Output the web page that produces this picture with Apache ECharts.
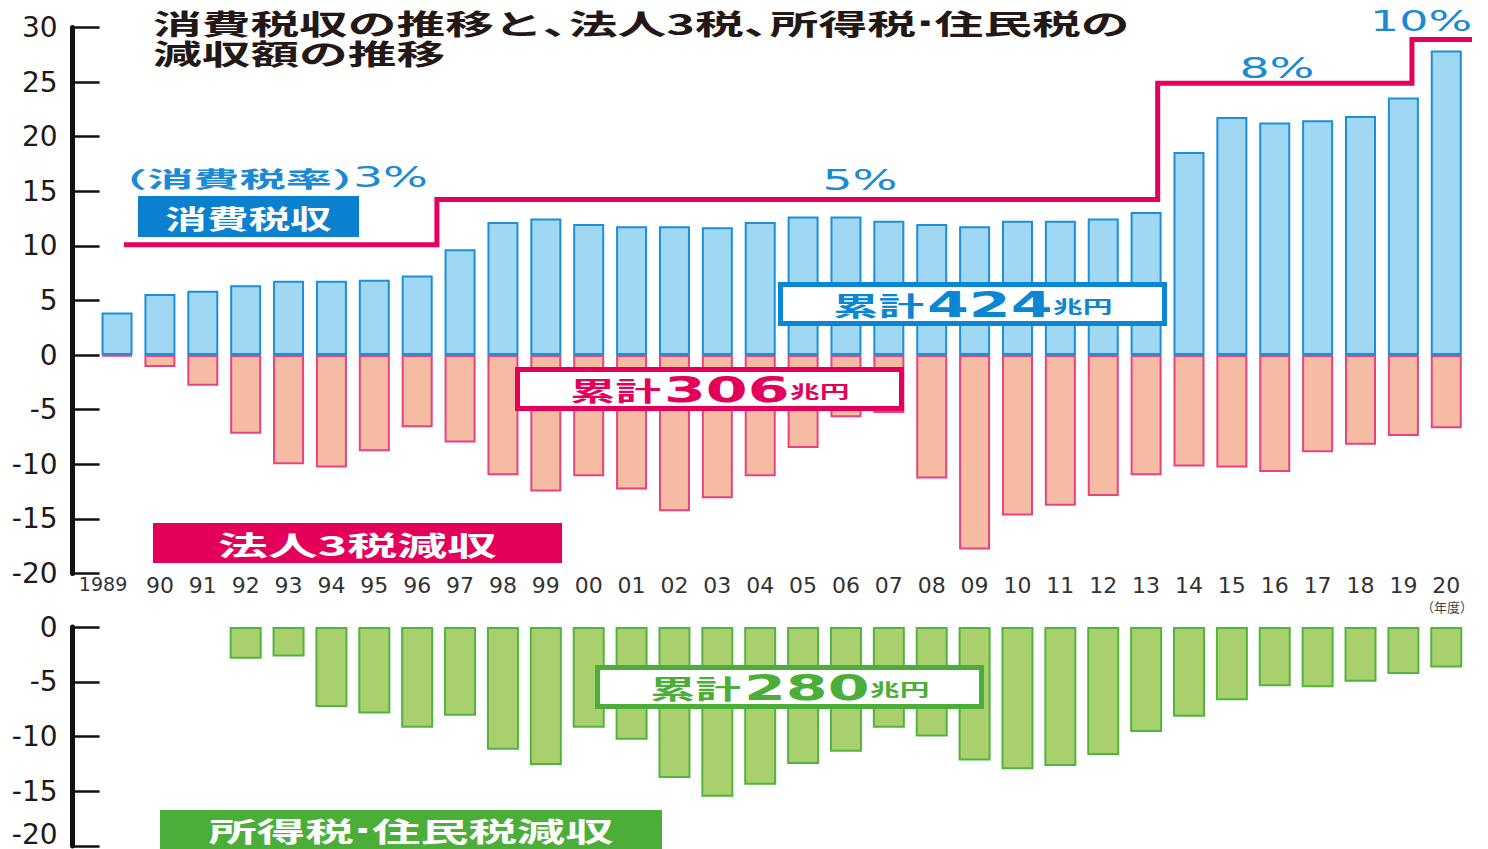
<!DOCTYPE html>
<html>
<head>
<meta charset="utf-8">
<script src="https://cdn.jsdelivr.net/npm/echarts@6/dist/echarts.min.js"></script>
<style>
  html, body { margin: 0; padding: 0; background: #ffffff; }
  #chart { width: 1488px; height: 849px; }
</style>
</head>
<body>
<div id="chart"></div>
<script>
// ---------------- DATA ----------------
const years = ['1989','90','91','92','93','94','95','96','97','98','99','00','01','02','03','04','05','06','07','08','09','10','11','12','13','14','15','16','17','18','19','20'];
// 消費税収 (兆円)
const consumptionTax = [3.9,5.6,5.9,6.4,6.8,6.8,6.9,7.3,9.7,12.2,12.5,12.0,11.8,11.8,11.7,12.2,12.7,12.7,12.3,12.0,11.8,12.3,12.3,12.5,13.1,18.6,21.8,21.3,21.5,21.9,23.6,27.9];
// 法人3税減収 (兆円)
const corporateTaxCut = [-0.1,-1.1,-2.8,-7.2,-10.0,-10.3,-8.8,-6.6,-8.0,-11.0,-12.5,-11.1,-12.3,-14.3,-13.1,-11.1,-8.5,-5.7,-5.3,-11.3,-17.8,-14.7,-13.8,-12.9,-11.0,-10.2,-10.3,-10.7,-8.9,-8.2,-7.4,-6.7];
// 所得税・住民税減収 (兆円)
const incomeTaxCut = [null,null,null,-2.9,-2.7,-7.3,-7.9,-9.2,-8.1,-11.2,-12.6,-9.2,-10.3,-13.8,-15.5,-14.4,-12.5,-11.4,-9.2,-10.0,-12.2,-13.0,-12.7,-11.7,-9.6,-8.2,-6.7,-5.4,-5.5,-5.0,-4.3,-3.7];
// 消費税率の推移 (各段の開始位置を年度目盛りで読んだ値、段の高さは上段の軸単位)
const rateLabels = ['3%','5%','8%','10%'];
const rateFrom = [1989.16, 1996.46, 2013.27, 2019.2];
const rateEnd = 2020.63;
const rateLevel = [10.1, 14.25, 24.9, 28.9];
// 累計 (兆円)
const cumulativeTotals = ['424','306','280'];
// tick settings
const upperTicks = { min: -20, max: 30, interval: 5 };
const lowerTicks = { min: -20, max: 0, interval: 5 };

// ---------------- CHART ----------------
const CJK = '"Noto Sans CJK JP", sans-serif';
const NUM = '"DejaVu Sans", sans-serif';
const BLUE = '#0a86d2';
const CRIMSON = '#e4005a';
const GREEN = '#4aae38';
const RATE_BLUE = '#1a8ad4';
const INK = '#231815';

const chart = echarts.init(document.getElementById('chart'), null, { renderer: 'svg' });

const firstYear = parseInt(years[0], 10);
const stepData = [];
for (let i = 0; i < rateFrom.length; i++) {
  const x0 = rateFrom[i] - firstYear;
  const x1 = (i + 1 < rateFrom.length ? rateFrom[i + 1] : rateEnd) - firstYear;
  stepData.push([x0, rateLevel[i]]);
  stepData.push([x1, rateLevel[i]]);
}

function yAxisFor(gridIndex, ticks, lastPad) {
  return {
    type: 'value',
    gridIndex: gridIndex,
    min: ticks.min, max: ticks.max, interval: ticks.interval,
    offset: 23,
    axisLine: { show: true, onZero: false, lineStyle: { color: '#111', width: 5 } },
    axisTick: { show: true, inside: true, length: 27, lineStyle: { color: '#111', width: 2.5 } },
    axisLabel: {
      margin: 15, fontFamily: NUM, fontSize: 28, color: INK,
      formatter: v => (lastPad && v === ticks.min) ? '{e|' + v + '}' : String(v),
      rich: { e: { fontFamily: NUM, fontSize: 28, color: INK, padding: [0, 0, 24, 0] } }
    },
    splitLine: { show: false }
  };
}

function totalBox(left, top, color, num) {
  return [
    { type: 'rect', z: 100, shape: { x: left + 2.5, y: top + 2.5, width: 384, height: 39 },
      style: { fill: '#fff', stroke: color, lineWidth: 5 } },
    { type: 'text', z: 101, x: left + 55, y: top + 23, scaleX: 1.75,
      style: { text: '累計', fontSize: 26, fontWeight: 'bold', fontFamily: CJK, fill: color, align: 'left', verticalAlign: 'middle' } },
    { type: 'text', z: 101, x: left + 149, y: top + 23, scaleX: 1.72,
      style: { text: num, fontSize: 35, fontWeight: 'bold', fontFamily: NUM, fill: color, align: 'left', verticalAlign: 'middle' } },
    { type: 'text', z: 101, x: left + 275, y: top + 24, scaleX: 1.75,
      style: { text: '兆円', fontSize: 17, fontWeight: 'bold', fontFamily: CJK, fill: color, align: 'left', verticalAlign: 'middle' } }
  ];
}

function richStyles(size, fill) {
  return {
    a: { fontSize: size, fontWeight: 'bold', fontFamily: CJK, fill: fill },
    p: { fontSize: size, fontWeight: 'bold', fontFamily: CJK, fill: fill, width: Math.round(size * 0.55) },
    d: { fontSize: size, fontWeight: 'bold', fontFamily: NUM, fill: fill }
  };
}

function labelBox(x, y, w, h, color, text, size, sx) {
  return [
    { type: 'rect', z: 100, shape: { x: x, y: y, width: w, height: h }, style: { fill: color } },
    { type: 'text', z: 101, x: x + w / 2, y: y + h / 2 + 1, scaleX: sx,
      style: { text: text, rich: richStyles(size, '#fff'), fontSize: size, fontWeight: 'bold', fontFamily: CJK, fill: '#fff', align: 'center', verticalAlign: 'middle' } }
  ];
}

const graphics = [].concat(
  [
    { type: 'text', z: 100, x: 153, y: 23, scaleX: 1.74,
      style: { text: '{a|消費税収の推移と}{p|、}{a|法人3税}{p|、}{a|所得税}{d|·}{a|住民税の}', rich: richStyles(28, INK),
        fontSize: 28, fontWeight: 'bold', fontFamily: CJK, fill: INK, align: 'left', verticalAlign: 'middle' } },
    { type: 'text', z: 100, x: 153, y: 53, scaleX: 1.74,
      style: { text: '減収額の推移', fontSize: 28, fontWeight: 'bold', fontFamily: CJK, fill: INK, align: 'left', verticalAlign: 'middle' } },
    { type: 'text', z: 100, x: 101, y: 177, scaleX: 2.1,
      style: { text: '（消費税率）', fontSize: 22, fontWeight: 'bold', fontFamily: CJK, fill: RATE_BLUE, align: 'left', verticalAlign: 'middle' } },
    { type: 'text', z: 100, x: 353, y: 177, scaleX: 1.69,
      style: { text: rateLabels[0], fontSize: 28, fontFamily: NUM, fill: RATE_BLUE, align: 'left', verticalAlign: 'middle' } },
    { type: 'text', z: 100, x: 860, y: 180, scaleX: 1.69,
      style: { text: rateLabels[1], fontSize: 28, fontFamily: NUM, fill: RATE_BLUE, align: 'center', verticalAlign: 'middle' } },
    { type: 'text', z: 100, x: 1277, y: 68, scaleX: 1.69,
      style: { text: rateLabels[2], fontSize: 28, fontFamily: NUM, fill: RATE_BLUE, align: 'center', verticalAlign: 'middle' } },
    { type: 'text', z: 100, x: 1421, y: 21, scaleX: 1.64,
      style: { text: rateLabels[3], fontSize: 28, fontFamily: NUM, fill: RATE_BLUE, align: 'center', verticalAlign: 'middle' } },
    { type: 'text', z: 100, x: 1473, y: 606,
      style: { text: '（年度）', fontSize: 13, fontFamily: CJK, fill: '#444', align: 'right', verticalAlign: 'middle' } }
  ],
  labelBox(138, 196, 221, 41, '#0a80cf', '{a|消費税収}', 26, 1.6),
  labelBox(153, 523, 409, 40, CRIMSON, '{a|法人3税減収}', 27, 1.85),
  labelBox(160, 810, 502, 39, GREEN, '{a|所得税}{d|·}{a|住民税減収}', 27, 1.79),
  totalBox(778, 282, BLUE, cumulativeTotals[0]),
  totalBox(515, 367, CRIMSON, cumulativeTotals[1]),
  totalBox(595, 665, GREEN, cumulativeTotals[2])
);

const option = {
  animation: false,
  backgroundColor: '#ffffff',
  grid: [
    { left: 95.6, right: 20.3, top: 27.5, height: 546 },
    { left: 95.6, right: 20.3, top: 627, height: 219 }
  ],
  xAxis: [
    { type: 'category', gridIndex: 0, data: years, position: 'bottom',
      axisLine: { show: false }, axisTick: { show: false }, splitLine: { show: false },
      axisLabel: { interval: 0, margin: 1, fontFamily: NUM, fontSize: 22, color: '#333',
        formatter: v => v.length === 4 ? '{y|' + v + '}' : v,
        rich: { y: { fontFamily: NUM, fontSize: 19, color: '#333', padding: [0, 28, 0, 0] } } } },
    { type: 'category', gridIndex: 1, data: years, show: false },
    { type: 'value', gridIndex: 0, min: -0.5, max: years.length - 0.5, show: false }
  ],
  yAxis: [
    yAxisFor(0, upperTicks, false),
    yAxisFor(1, lowerTicks, true)
  ],
  series: [
    { name: '消費税収', type: 'bar', xAxisIndex: 0, yAxisIndex: 0, data: consumptionTax,
      barWidth: 31, barGap: '-100%',
      itemStyle: { color: '#a0d8f4', borderColor: '#1b8fd8', borderWidth: 2 } },
    { name: '法人3税減収', type: 'bar', xAxisIndex: 0, yAxisIndex: 0, data: corporateTaxCut,
      barWidth: 31, barGap: '-100%',
      itemStyle: { color: '#f5bba3', borderColor: '#e8437c', borderWidth: 2 } },
    { name: '所得税・住民税減収', type: 'bar', xAxisIndex: 1, yAxisIndex: 1, data: incomeTaxCut,
      barWidth: 32,
      itemStyle: { color: '#a9d06c', borderColor: '#52b440', borderWidth: 2 } },
    { name: '消費税率', type: 'line', xAxisIndex: 2, yAxisIndex: 0, data: stepData,
      symbol: 'none', z: 5, silent: true,
      lineStyle: { color: '#e4005f', width: 5, join: 'miter', cap: 'butt' } }
  ],
  graphic: graphics
};
chart.setOption(option);
</script>
</body>
</html>
